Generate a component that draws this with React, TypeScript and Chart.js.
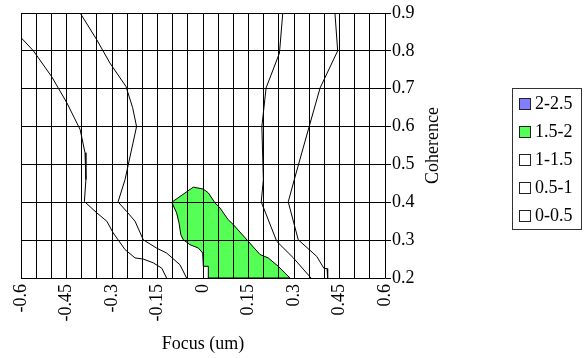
import React, { useEffect, useRef } from 'react';
import { Chart, registerables } from 'chart.js';

Chart.register(...registerables);

// Axis ranges and ticks
const xMin = -0.6;
const xMax = 0.6;
const xGridStep = 0.05;
const yMin = 0.2;
const yMax = 0.9;
const yStep = 0.1;
const xTickValues = [-0.6, -0.45, -0.3, -0.15, 0, 0.15, 0.3, 0.45, 0.6];
const xTickLabels = ['-0.6', '-0.45', '-0.3', '-0.15', '0', '0.15', '0.3', '0.45', '0.6'];
const yTickValues = [0.2, 0.3, 0.4, 0.5, 0.6, 0.7, 0.8, 0.9];
const yTickLabels = ['0.2', '0.3', '0.4', '0.5', '0.6', '0.7', '0.8', '0.9'];

const xTitle = 'Focus (um)';
const yTitle = 'Coherence';

// Legend
const legendLabels = ['2-2.5', '1.5-2', '1-1.5', '0.5-1', '0-0.5'];
const legendColors = ['#7f7fff', '#55ff55', '#ffffff', '#ffffff', '#ffffff'];

// Contour lines (focus, coherence)
const lineAx = [-0.6, -0.559, -0.499, -0.449, -0.405, -0.389, -0.386, -0.391, -0.35, -0.317, -0.296, -0.257, -0.224, -0.197, -0.164, -0.136, -0.12];
const lineAy = [0.835, 0.8, 0.732, 0.663, 0.592, 0.531, 0.46, 0.402, 0.372, 0.35, 0.319, 0.275, 0.253, 0.25, 0.24, 0.226, 0.2];

const lineBx = [-0.405, -0.35, -0.307, -0.254, -0.232, -0.219, -0.257, -0.28, -0.252, -0.224, -0.197, -0.153, -0.12, -0.076, -0.054];
const lineBy = [0.9, 0.829, 0.768, 0.706, 0.65, 0.6, 0.46, 0.401, 0.376, 0.35, 0.301, 0.279, 0.266, 0.235, 0.2];

const lineCx = [0.263, 0.252, 0.208, 0.194, 0.199, 0.192, 0.243, 0.298, 0.356];
const lineCy = [0.9, 0.794, 0.702, 0.6, 0.46, 0.401, 0.297, 0.253, 0.2];

const lineDx = [0.435, 0.444, 0.386, 0.35, 0.301, 0.281, 0.314, 0.375, 0.399, 0.409, 0.411];
const lineDy = [0.9, 0.8, 0.702, 0.6, 0.46, 0.401, 0.301, 0.257, 0.225, 0.225, 0.2];

// Filled 1.5-2 region boundary
const greenX = [-0.103, -0.032, 0.001, 0.0175, 0.04, 0.056, 0.083, 0.1, 0.149, 0.188, 0.215, 0.248, 0.287, 0.0175, 0.0175, 0.001, -0.001, -0.015, -0.043, -0.065, -0.073, -0.079, -0.087, -0.103];
const greenY = [0.4, 0.44, 0.435, 0.425, 0.398, 0.385, 0.354, 0.341, 0.297, 0.262, 0.253, 0.231, 0.2, 0.2, 0.231, 0.231, 0.266, 0.279, 0.288, 0.301, 0.314, 0.345, 0.372, 0.4];

const FONT = "'Liberation Serif', 'Times New Roman', serif";

const toPts = (xs: number[], ys: number[]) => xs.map((x, i) => ({ x, y: ys[i] }));

const lineStyle = {
  showLine: true,
  borderColor: '#000000',
  borderWidth: 1,
  pointRadius: 0,
  pointHoverRadius: 0,
  tension: 0,
  fill: false,
};

const gridOnTop = {
  id: 'gridOnTop',
  afterDatasetsDraw(chart: any) {
    const area = chart.chartArea;
    ['x', 'y'].forEach((id) => {
      const s = chart.scales[id];
      if (s && s.drawGrid) s.drawGrid(area);
    });
  },
};

const extras = {
  id: 'extras',
  afterDraw(chart: any) {
    const ctx = chart.ctx;
    const area = chart.chartArea;
    ctx.save();
    // Y axis title, reading bottom to top
    ctx.font = `18px ${FONT}`;
    ctx.fillStyle = '#000';
    ctx.textAlign = 'center';
    ctx.textBaseline = 'middle';
    ctx.translate(433, (area.top + area.bottom) / 2);
    ctx.rotate(-Math.PI / 2);
    ctx.fillText(yTitle, 0, 0);
    ctx.restore();

    // Legend box
    ctx.save();
    const lx = 512.5;
    const ly = 88.5;
    const lw = 69;
    const lh = 141;
    ctx.fillStyle = '#ffffff';
    ctx.fillRect(lx, ly, lw, lh);
    ctx.strokeStyle = '#333333';
    ctx.lineWidth = 1;
    ctx.strokeRect(lx, ly, lw, lh);
    ctx.font = `18px ${FONT}`;
    ctx.textAlign = 'left';
    ctx.textBaseline = 'middle';
    legendLabels.forEach((lab, i) => {
      const cy = 104 + i * 28;
      ctx.fillStyle = legendColors[i];
      ctx.fillRect(519.5, cy - 5.5, 11, 11);
      ctx.strokeStyle = '#222222';
      ctx.strokeRect(519.5, cy - 5.5, 11, 11);
      ctx.fillStyle = '#000';
      ctx.fillText(lab, 535, cy);
    });
    ctx.restore();
  },
};

export default function App() {
  const ref = useRef<HTMLCanvasElement | null>(null);

  useEffect(() => {
    if (!ref.current) return;
    Chart.defaults.font.family = FONT;
    Chart.defaults.font.size = 18;
    Chart.defaults.color = '#000000';

    const chart = new Chart(ref.current, {
      type: 'scatter',
      data: {
        datasets: [
          {
            ...lineStyle,
            label: '1.5-2',
            data: toPts(greenX, greenY),
            fill: 'shape',
            backgroundColor: legendColors[1],
          } as any,
          { ...lineStyle, label: 'A', data: toPts(lineAx, lineAy) } as any,
          { ...lineStyle, label: 'B', data: toPts(lineBx, lineBy) } as any,
          { ...lineStyle, label: 'C', data: toPts(lineCx, lineCy) } as any,
          { ...lineStyle, label: 'D', data: toPts(lineDx, lineDy) } as any,
        ],
      },
      options: {
        responsive: false,
        animation: false,
        events: [],
        layout: { padding: { left: 21, top: 13, right: 0, bottom: 0 } },
        plugins: {
          legend: { display: false },
          tooltip: { enabled: false },
        },
        scales: {
          x: {
            type: 'linear',
            position: 'bottom',
            min: xMin,
            max: xMax,
            afterFit: (s: any) => {
              s.height = 80;
            },
            afterBuildTicks: (s: any) => {
              const ticks = [];
              const n = Math.round((xMax - xMin) / xGridStep);
              for (let i = 0; i <= n; i++) ticks.push({ value: +(xMin + i * xGridStep).toFixed(4) });
              s.ticks = ticks;
            },
            ticks: {
              autoSkip: false,
              minRotation: 90,
              maxRotation: 90,
              padding: 6,
              color: '#000',
              font: { size: 18, family: FONT },
              callback: (v: any) => {
                const idx = xTickValues.findIndex((t) => Math.abs(t - Number(v)) < 1e-6);
                return idx >= 0 ? xTickLabels[idx] : '';
              },
            },
            grid: { color: '#000000', lineWidth: 1, drawTicks: false },
            border: { display: true, color: '#000000', width: 1 },
            title: {
              display: true,
              text: xTitle,
              color: '#000',
              font: { size: 18, family: FONT },
              padding: { top: 0, bottom: 3 },
            },
          },
          y: {
            type: 'linear',
            position: 'right',
            min: yMin,
            max: yMax,
            afterFit: (s: any) => {
              s.width = 202;
            },
            ticks: {
              stepSize: yStep,
              padding: 1,
              color: '#000',
              font: { size: 18, family: FONT },
              callback: (v: any) => {
                const idx = yTickValues.findIndex((t) => Math.abs(t - Number(v)) < 1e-6);
                return idx >= 0 ? yTickLabels[idx] : '';
              },
            },
            grid: { color: '#000000', lineWidth: 1, drawTicks: true, tickLength: 6 },
            border: { display: true, color: '#444444', width: 1 },
          },
        },
      },
      plugins: [gridOnTop, extras],
    } as any);

    return () => chart.destroy();
  }, []);

  return (
    <div style={{ position: 'fixed', left: 0, top: 0, width: 587, height: 358, background: '#fff' }}>
      <canvas ref={ref} width={587} height={358} style={{ display: 'block' }} />
    </div>
  );
}
